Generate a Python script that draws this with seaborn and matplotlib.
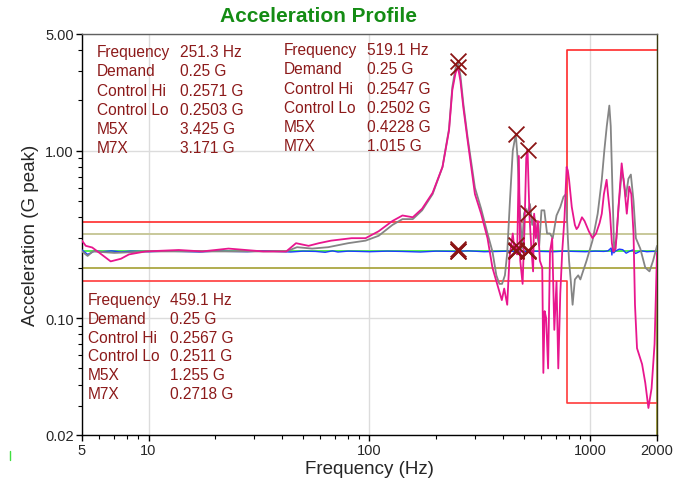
import matplotlib
matplotlib.use("Agg")
import matplotlib.pyplot as plt
from matplotlib.ticker import FixedLocator, LogLocator, NullFormatter
from matplotlib.lines import Line2D
import seaborn as sns

# ---- response channels (frequency in Hz, acceleration in G peak) ----
m7x_freq = [5, 5.2, 5.56, 6.0, 6.74, 7.5, 8.16, 9.7, 13.7, 17.5, 23, 33, 42, 46.5, 53, 59, 67,
            83, 96, 110, 127, 141, 157, 173, 193, 214, 229, 237, 245, 251.3, 258, 266, 278,
            300, 320, 342, 360, 378, 397, 407, 420, 430, 445, 452, 459.1, 466, 474, 481, 493,
            503, 512, 519.1, 525, 530, 540, 550, 556, 566, 578, 590, 605, 612, 620, 630, 643,
            656, 671, 686, 702, 715, 730, 745, 763, 780, 790, 800, 823, 850, 865, 880, 915,
            940, 983, 1021, 1060, 1100, 1125, 1150, 1183, 1200, 1226, 1250, 1268, 1300, 1336,
            1384, 1423, 1460, 1497, 1530, 1566, 1590, 1624, 1712, 1770, 1829, 1890, 1950, 2000]
m7x_vals = [0.29, 0.27, 0.264, 0.245, 0.218, 0.226, 0.24, 0.25, 0.255, 0.25, 0.26, 0.25, 0.25,
            0.28, 0.27, 0.28, 0.29, 0.30, 0.30, 0.33, 0.38, 0.41, 0.40, 0.45, 0.56, 0.80, 1.32,
            2.3, 2.9, 3.171, 2.6, 1.8, 1.15, 0.55, 0.42, 0.30, 0.20, 0.16, 0.128, 0.15, 0.12,
            0.23, 0.32, 0.26, 0.2718, 0.24, 0.93, 0.22, 0.16, 0.35, 0.9, 1.015, 0.6, 0.40, 0.26,
            0.19, 0.42, 0.30, 0.38, 0.22, 0.20, 0.047, 0.11, 0.10, 0.05, 0.25, 0.30, 0.085,
            0.165, 0.05, 0.14, 0.25, 0.40, 0.80, 0.76, 0.67, 0.46, 0.36, 0.34, 0.35, 0.40, 0.38,
            0.33, 0.30, 0.32, 0.37, 0.42, 0.55, 0.67, 0.55, 0.42, 0.28, 0.25, 0.26, 0.44, 0.84,
            0.61, 0.42, 0.61, 0.55, 0.32, 0.12, 0.066, 0.053, 0.041, 0.029, 0.038, 0.07, 0.245]

m5x_freq = [5, 5.3, 5.6, 7, 10, 15, 20, 30, 42, 47, 55, 65, 80, 96, 110, 127, 141, 157, 173,
            193, 214, 229, 237, 245, 251.3, 258, 266, 278, 300, 320, 342, 360, 375, 387, 398,
            410, 420, 432, 445, 459.1, 468, 477, 490, 500, 510, 519.1, 532, 545, 555, 570, 586,
            600, 618, 636, 655, 675, 702, 730, 755, 775, 790, 800, 815, 830, 850, 880, 900, 925,
            960, 1021, 1078, 1125, 1155, 1185, 1217, 1235, 1255, 1280, 1310, 1340, 1384, 1410,
            1445, 1485, 1523, 1566, 1605, 1680, 1770, 1850, 1920, 2000]
m5x_vals = [0.25, 0.235, 0.25, 0.245, 0.25, 0.25, 0.25, 0.25, 0.25, 0.265, 0.26, 0.265, 0.28,
            0.29, 0.31, 0.36, 0.39, 0.39, 0.44, 0.55, 0.80, 1.35, 2.4, 3.1, 3.425, 2.8, 1.9,
            1.2, 0.6, 0.45, 0.32, 0.25, 0.18, 0.16, 0.16, 0.18, 0.245, 0.5, 1.0, 1.255, 0.9,
            0.5, 0.26, 0.42, 0.45, 0.4228, 0.48, 0.36, 0.41, 0.33, 0.27, 0.44, 0.44, 0.32, 0.32,
            0.30, 0.41, 0.46, 0.53, 0.55, 0.30, 0.22, 0.165, 0.12, 0.17, 0.18, 0.17, 0.19, 0.22,
            0.29, 0.42, 0.67, 1.0, 1.4, 1.86, 1.4, 0.64, 0.25, 0.30, 0.46, 0.74, 0.68, 0.53,
            0.68, 0.72, 0.5, 0.30, 0.26, 0.20, 0.19, 0.22, 0.27]

# ---- control channel ----
ctrl_freq = [5, 5.3, 5.7, 6.2, 6.8, 7.5, 8.3, 9.2, 10, 12, 14, 17, 20, 24, 28, 33, 38, 44, 50,
             57, 63, 68, 72, 80, 90, 100, 120, 140, 170, 200, 240, 280, 330, 380, 430, 480, 540,
             600, 680, 760, 850, 950, 1050, 1150, 1200, 1240, 1250, 1260, 1275, 1300, 1350,
             1400, 1450, 1500, 1550, 1600, 1650, 1700, 1800, 1900, 2000]
ctrl_vals = [0.255, 0.24, 0.251, 0.249, 0.252, 0.248, 0.251, 0.25, 0.249, 0.251, 0.25, 0.248,
             0.251, 0.25, 0.249, 0.252, 0.25, 0.248, 0.251, 0.25, 0.247, 0.252, 0.248, 0.251,
             0.25, 0.249, 0.251, 0.25, 0.248, 0.251, 0.25, 0.252, 0.249, 0.25, 0.251, 0.249,
             0.251, 0.25, 0.249, 0.251, 0.25, 0.249, 0.251, 0.25, 0.252, 0.262, 0.238, 0.26,
             0.245, 0.252, 0.258, 0.256, 0.244, 0.25, 0.255, 0.243, 0.248, 0.252, 0.249, 0.25,
             0.25]

# ---- demand and tolerance bands ----
demand_freq = [5, 2000]
demand_vals = [0.25, 0.25]
abort_hi_freq = [5, 780, 780, 2000]
abort_hi_vals = [0.375, 0.375, 4.0, 4.0]
abort_lo_freq = [5, 780, 780, 2000]
abort_lo_vals = [0.167, 0.167, 0.031, 0.031]
alarm_hi_freq = [5, 2000]
alarm_hi_vals = [0.316, 0.316]
alarm_lo_freq = [5, 2000, 2000]
alarm_lo_vals = [0.2, 0.2, 0.02]

# ---- cursor readouts ----
cursor_freq = [251.3, 459.1, 519.1]
cursor_demand = [0.25, 0.25, 0.25]
cursor_ctrl_hi = [0.2571, 0.2567, 0.2547]
cursor_ctrl_lo = [0.2503, 0.2511, 0.2502]
cursor_m5x = [3.425, 1.255, 0.4228]
cursor_m7x = [3.171, 0.2718, 1.015]

x_ticks = [5, 10, 100, 1000, 2000]
x_tick_labels = ["5", "10", "100", "1000", "2000"]
y_ticks = [0.02, 0.1, 1.0, 5.0]
y_tick_labels = ["0.02", "0.10", "1.00", "5.00"]

sns.set_style("white")
plt.rcParams["font.family"] = ["Liberation Sans", "DejaVu Sans"]

W, H = 674, 481
fig = plt.figure(figsize=(W / 100, H / 100), dpi=100)
ax = fig.add_axes([82 / W, 1 - 436 / H, (657 - 82) / W, (436 - 34.7) / H])
ax.set_xscale("log")
ax.set_yscale("log")
ax.set_xlim(5, 2000)
ax.set_ylim(0.02, 5)

ax.grid(True, which="major", color="#dcdcdc", lw=1.0, zorder=0)

# tolerance bands
sns.lineplot(x=alarm_hi_freq, y=alarm_hi_vals, ax=ax, color="#c8c89a", lw=1.4,
             estimator=None, sort=False, zorder=2)
sns.lineplot(x=alarm_lo_freq, y=alarm_lo_vals, ax=ax, color="#a4a032", lw=1.2,
             estimator=None, sort=False, zorder=2)
sns.lineplot(x=abort_hi_freq, y=abort_hi_vals, ax=ax, color="#ff2a2a", lw=1.2,
             estimator=None, sort=False, zorder=2)
sns.lineplot(x=abort_lo_freq, y=abort_lo_vals, ax=ax, color="#ff3b3b", lw=1.2,
             estimator=None, sort=False, zorder=2)

# demand and control
sns.lineplot(x=demand_freq, y=demand_vals, ax=ax, color="#50f050", lw=1.4,
             estimator=None, sort=False, zorder=3)
sns.lineplot(x=ctrl_freq, y=ctrl_vals, ax=ax, color="#1e3cff", lw=1.0,
             estimator=None, sort=False, zorder=4)

# response channels
sns.lineplot(x=m5x_freq, y=m5x_vals, ax=ax, color="#858585", lw=1.3,
             estimator=None, sort=False, zorder=5)
sns.lineplot(x=m7x_freq, y=m7x_vals, ax=ax, color="#e8168e", lw=1.3,
             estimator=None, sort=False, zorder=6)

# cursor markers
mk_x, mk_y = [], []
for series in (cursor_demand, cursor_ctrl_hi, cursor_ctrl_lo, cursor_m5x, cursor_m7x):
    mk_x.extend(cursor_freq)
    mk_y.extend(series)
sns.scatterplot(x=mk_x, y=mk_y, ax=ax, marker="x", s=130, linewidth=1.3,
                color="#8b1414", zorder=8)

# axes styling
ax.xaxis.set_major_locator(FixedLocator(x_ticks))
ax.set_xticklabels(x_tick_labels)
ax.yaxis.set_major_locator(FixedLocator(y_ticks))
ax.set_yticklabels(y_tick_labels)
ax.xaxis.set_minor_locator(LogLocator(base=10, subs=range(2, 10), numticks=20))
ax.yaxis.set_minor_locator(LogLocator(base=10, subs=range(2, 10), numticks=20))
ax.xaxis.set_minor_formatter(NullFormatter())
ax.yaxis.set_minor_formatter(NullFormatter())
ax.tick_params(which="both", direction="out", color="black", labelsize=10.5,
               bottom=True, left=True, top=False, right=False)
ax.tick_params(which="major", length=4, width=1, pad=2)
ax.tick_params(which="minor", length=3, width=0.8)
for side in ("left", "bottom"):
    ax.spines[side].set_color("black")
    ax.spines[side].set_linewidth(1.0)
ax.spines["top"].set_color("#606060")
ax.spines["top"].set_linewidth(1.0)
ax.spines["right"].set_color("#3a3a10")
ax.spines["right"].set_linewidth(1.0)

ax.set_xlabel("Frequency (Hz)", fontsize=13.5, labelpad=2)
ax.set_ylabel("Acceleration (G peak)", fontsize=13.5, labelpad=4)

fig.text(319 / W, 1 - 16 / H, "Acceleration Profile", ha="center", va="center",
         fontsize=15, fontweight="bold", color="#148c14")

# cursor readout blocks
txt_color = "#8c1a1a"
row_names = ["Frequency", "Demand", "Control Hi", "Control Lo", "M5X", "M7X"]
blocks = [
    (0, 97, 180, [52.5, 71.7, 91.2, 110.3, 129.5, 148.8]),
    (2, 284, 367, [50.7, 70.0, 89.3, 108.5, 127.7, 146.9]),
    (1, 88, 170, [301.0, 319.5, 338.3, 356.8, 376.0, 395.0]),
]
for idx, lx, vx, rows in blocks:
    values = [f"{cursor_freq[idx]:g} Hz", f"{cursor_demand[idx]:g} G",
              f"{cursor_ctrl_hi[idx]:g} G", f"{cursor_ctrl_lo[idx]:g} G",
              f"{cursor_m5x[idx]:g} G", f"{cursor_m7x[idx]:g} G"]
    for name, val, ry in zip(row_names, values, rows):
        fig.text(lx / W, 1 - ry / H, name, ha="left", va="center", fontsize=11.2,
                 color=txt_color)
        fig.text(vx / W, 1 - ry / H, val, ha="left", va="center", fontsize=11.2,
                 color=txt_color)

# small legend stub at the lower left corner
fig.add_artist(Line2D([10 / W, 10 / W], [1 - 452 / H, 1 - 461 / H],
                      transform=fig.transFigure, color="#40e040", lw=1.0))

fig.savefig("out.png", dpi=100)
